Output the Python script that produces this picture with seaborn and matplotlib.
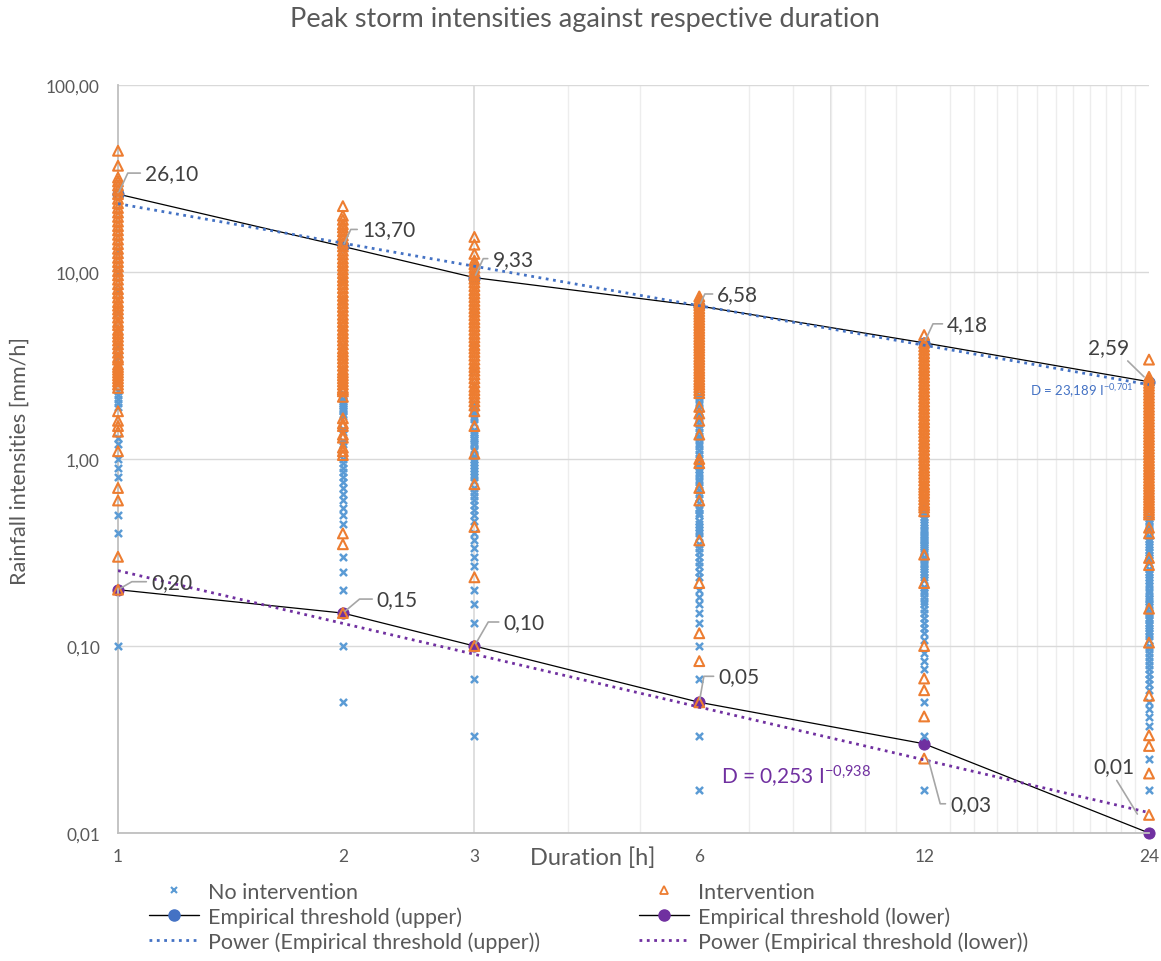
import numpy as np
import pandas as pd
import matplotlib
matplotlib.use('Agg')
import matplotlib.pyplot as plt
from matplotlib.ticker import FixedLocator, FuncFormatter, NullFormatter
from matplotlib.lines import Line2D
import seaborn as sns

# Durations [h] and empirical thresholds [mm/h]
durations = [1, 2, 3, 6, 12, 24]
upper_threshold = [26.10, 13.70, 9.33, 6.58, 4.18, 2.59]
lower_threshold = [0.20, 0.15, 0.10, 0.05, 0.03, 0.01]

# Peak intensities without intervention, per duration
no_int_1h = [0.1, 0.4, 0.5, 0.8, 0.9, 1.0, 1.2, 1.3, 1.9, 2.0, 2.1, 2.2, 2.3, 2.6, 3.0, 3.5, 4.0, 5.0,
             6.0, 8.0, 10.0, 13.0]
no_int_2h = [0.05, 0.1, 0.2, 0.25, 0.3, 0.45, 0.5, 0.55, 0.6, 0.65, 0.7, 0.75, 0.8, 0.85, 0.9, 0.95, 1.0,
             1.2, 1.25, 1.4, 1.45, 1.7, 1.75, 1.8, 1.85, 1.9, 1.95, 2.0, 2.05, 2.1, 2.2, 2.25, 2.5, 3.0,
             4.0, 5.0, 7.0, 9.0]
no_int_3h = [0.033, 0.067, 0.133, 0.167, 0.2, 0.267, 0.3, 0.333, 0.367, 0.4, 0.467, 0.5, 0.533, 0.567,
             0.6, 0.633, 0.667, 0.7, 0.767, 0.8, 0.833, 0.867, 0.9, 0.933, 0.967, 1.0, 1.033, 1.1, 1.133,
             1.2, 1.233, 1.267, 1.3, 1.367, 1.4, 1.433, 1.567, 1.633, 1.7, 1.767, 1.833, 1.867, 1.9,
             2.0, 2.5, 3.0, 4.0, 6.0]
no_int_6h = [0.017, 0.033, 0.067, 0.1, 0.133, 0.15, 0.167, 0.183, 0.2, 0.233, 0.25, 0.267, 0.283, 0.3,
             0.317, 0.333, 0.35, 0.383, 0.4, 0.417, 0.433, 0.45, 0.467, 0.5, 0.517, 0.533, 0.55, 0.583,
             0.617, 0.65, 0.683, 0.717, 0.75, 0.783, 0.817, 0.85, 0.883, 0.917, 0.967, 1.017, 1.067,
             1.117, 1.167, 1.217, 1.283, 1.333, 1.4, 1.467, 1.533, 1.617, 1.683, 1.767, 1.85, 1.933,
             2.017, 2.117, 2.2, 2.5, 3.0, 4.0]
no_int_12h = [0.017, 0.033, 0.05, 0.075, 0.083, 0.092, 0.108, 0.117, 0.125, 0.133, 0.142, 0.15, 0.158,
              0.167, 0.175, 0.183, 0.192, 0.2, 0.208, 0.225, 0.233, 0.242, 0.25, 0.258, 0.267, 0.275,
              0.283, 0.292, 0.3, 0.317, 0.325, 0.333, 0.342, 0.35, 0.358, 0.367, 0.375, 0.383, 0.392,
              0.408, 0.417, 0.425, 0.442, 0.458, 0.475, 0.492, 0.508, 0.525, 0.542, 0.558, 0.575, 0.6,
              0.7, 0.9, 1.2]
no_int_24h = [0.017, 0.025, 0.0375, 0.0417, 0.0458, 0.05, 0.0583, 0.0625, 0.0667, 0.0708, 0.075, 0.0792,
              0.0833, 0.0875, 0.0917, 0.0958, 0.1, 0.1083, 0.1125, 0.1167, 0.1208, 0.125, 0.1292, 0.1333,
              0.1375, 0.1417, 0.1458, 0.15, 0.1542, 0.1625, 0.1667, 0.175, 0.1792, 0.1833, 0.1917, 0.2,
              0.2083, 0.2167, 0.225, 0.2333, 0.2417, 0.25, 0.2583, 0.2792, 0.2875, 0.2958, 0.3083,
              0.3167, 0.325, 0.3375, 0.35, 0.3625, 0.375, 0.3875, 0.4125, 0.425, 0.4375, 0.45, 0.4667,
              0.4833, 0.5, 0.55, 0.6, 0.7]

# Peak intensities with intervention, per duration
int_1h = [0.2, 0.3, 0.6, 0.7, 1.1, 1.4, 1.5, 1.6, 1.8, 2.4, 2.5, 2.6, 2.7, 2.8, 2.9, 3.0, 3.1, 3.2, 3.4,
          3.5, 3.7, 3.9, 4.1, 4.3, 4.5, 4.7, 4.9, 5.2, 5.4, 5.7, 6.0, 6.3, 6.6, 6.9, 7.3, 7.7, 8.1, 8.6,
          9.1, 9.6, 10.1, 10.7, 11.3, 11.9, 12.6, 13.3, 14.1, 14.9, 15.8, 16.7, 17.6, 18.6, 19.7, 20.8,
          22.0, 23.3, 24.6, 26.1, 27.5, 29.0, 30.5, 32.0, 37.0, 44.5]
int_2h = [0.15, 0.35, 0.4, 1.05, 1.1, 1.15, 1.3, 1.35, 1.5, 1.55, 1.65, 2.15, 2.3, 2.35, 2.4, 2.5, 2.6,
          2.7, 2.8, 2.9, 3.0, 3.15, 3.3, 3.45, 3.6, 3.75, 3.9, 4.1, 4.3, 4.5, 4.7, 4.9, 5.15, 5.4, 5.65,
          5.9, 6.2, 6.5, 6.8, 7.1, 7.45, 7.8, 8.2, 8.6, 9.0, 9.4, 9.85, 10.3, 10.8, 11.3, 11.8, 12.4,
          13.0, 13.7, 14.3, 15.0, 15.7, 16.5, 17.3, 18.0, 19.0, 20.0, 22.5]
int_3h = [0.1, 0.233, 0.433, 0.733, 1.067, 1.5, 1.8, 1.933, 2.033, 2.133, 2.233, 2.333, 2.433, 2.567,
          2.7, 2.833, 2.967, 3.1, 3.233, 3.4, 3.567, 3.733, 3.9, 4.067, 4.267, 4.467, 4.667, 4.9, 5.133,
          5.367, 5.6, 5.867, 6.133, 6.4, 6.7, 7.0, 7.333, 7.667, 8.0, 8.4, 8.8, 9.2, 9.6, 10.067,
          10.533, 11.0, 11.5, 12.5, 14.0, 15.4]
int_6h = [0.05, 0.083, 0.117, 0.217, 0.367, 0.6, 0.7, 0.95, 1.0, 1.35, 1.6, 1.75, 1.9, 2.25, 2.333,
          2.417, 2.5, 2.583, 2.667, 2.767, 2.867, 2.967, 3.067, 3.183, 3.3, 3.417, 3.533, 3.667, 3.8,
          3.933, 4.067, 4.217, 4.367, 4.517, 4.683, 4.85, 5.017, 5.2, 5.383, 5.567, 5.767, 5.967,
          6.183, 6.4, 6.633, 6.867, 7.1, 7.4]
int_12h = [0.025, 0.042, 0.058, 0.067, 0.1, 0.217, 0.308, 0.525, 0.55, 0.567, 0.583, 0.608, 0.633,
           0.658, 0.683, 0.708, 0.733, 0.767, 0.8, 0.833, 0.867, 0.9, 0.942, 0.983, 1.025, 1.067, 1.117,
           1.167, 1.217, 1.267, 1.325, 1.383, 1.442, 1.5, 1.567, 1.633, 1.708, 1.783, 1.858, 1.942,
           2.025, 2.117, 2.208, 2.3, 2.4, 2.508, 2.617, 2.733, 2.85, 2.975, 3.1, 3.233, 3.375, 3.525,
           3.675, 3.833, 4.0, 4.175, 4.6]
int_24h = [0.0125, 0.0208, 0.0292, 0.0333, 0.0542, 0.1042, 0.1583, 0.2708, 0.2958, 0.4, 0.4292, 0.5042,
           0.5167, 0.5333, 0.55, 0.5667, 0.5833, 0.6042, 0.625, 0.6458, 0.6667, 0.6917, 0.7167, 0.7417,
           0.7667, 0.7958, 0.825, 0.8542, 0.8833, 0.9167, 0.95, 0.9833, 1.0208, 1.0583, 1.0958, 1.1375,
           1.1792, 1.225, 1.2708, 1.3167, 1.3667, 1.4167, 1.4708, 1.525, 1.5833, 1.6417, 1.7042,
           1.7667, 1.8333, 1.9, 1.975, 2.05, 2.125, 2.2042, 2.2875, 2.375, 2.4625, 2.55, 2.6458, 2.75,
           3.4]

no_int_lists = [no_int_1h, no_int_2h, no_int_3h, no_int_6h, no_int_12h, no_int_24h]
int_lists = [int_1h, int_2h, int_3h, int_6h, int_12h, int_24h]

# Colours
c_blue = '#5B9BD5'
c_orange = '#ED7D31'
c_upper = '#4472C4'
c_lower = '#7030A0'
c_text = '#404040'
c_axis = '#595959'


def to_frame(lists):
    frames = [pd.DataFrame({'duration': d, 'intensity': v}) for d, v in zip(durations, lists)]
    return pd.concat(frames, ignore_index=True)


def comma(v, fmt='.2f'):
    return format(v, fmt).replace('.', ',')


df_no = to_frame(no_int_lists)
df_int = to_frame(int_lists)
df_thr = pd.DataFrame({'duration': durations, 'upper': upper_threshold, 'lower': lower_threshold})

# Power trendlines (least squares in log-log, like Excel)
b_up, a_up = np.polyfit(np.log(durations), np.log(upper_threshold), 1)
b_lo, a_lo = np.polyfit(np.log(durations), np.log(lower_threshold), 1)
x_fit = np.geomspace(1, 24, 60)
df_fit = pd.DataFrame({'duration': x_fit,
                       'upper': np.exp(a_up) * x_fit ** b_up,
                       'lower': np.exp(a_lo) * x_fit ** b_lo})

sns.set_style('white')
plt.rcParams['font.family'] = ['Lato', 'DejaVu Sans']
plt.rcParams['mathtext.fontset'] = 'custom'
plt.rcParams['mathtext.rm'] = 'Lato'
plt.rcParams['mathtext.default'] = 'regular'

W, H = 1161, 962
fig = plt.figure(figsize=(W / 100, H / 100), dpi=100)
ax = fig.add_axes([118 / W, 1 - 834 / H, 1031 / W, 748 / H])
ax.set_xscale('log')
ax.set_yscale('log')
ax.set_xlim(1, 24)
ax.set_ylim(0.01, 100)

# Thresholds (lines with markers)
sns.lineplot(data=df_thr, x='duration', y='upper', color='black', linewidth=0.9, marker='o',
             markersize=8, markerfacecolor=c_upper, markeredgecolor=c_upper, ax=ax, zorder=2.5,
             clip_on=False)
sns.lineplot(data=df_thr, x='duration', y='lower', color='black', linewidth=0.9, marker='o',
             markersize=8, markerfacecolor=c_lower, markeredgecolor=c_lower, ax=ax, zorder=2.5,
             clip_on=False)

# Scatter of storms
sns.scatterplot(data=df_no, x='duration', y='intensity', marker='x', color=c_blue, s=26,
                linewidth=1.8, ax=ax, zorder=3, clip_on=False, legend=False)
sns.scatterplot(data=df_int, x='duration', y='intensity', marker='^', color=c_orange,
                facecolor='none', edgecolor=c_orange, s=50, linewidth=1.5, ax=ax, zorder=4,
                clip_on=False, legend=False)

# Trendlines
sns.lineplot(data=df_fit, x='duration', y='upper', color=c_upper, linewidth=2, linestyle=':',
             ax=ax, zorder=5)
sns.lineplot(data=df_fit, x='duration', y='lower', color=c_lower, linewidth=2, linestyle=':',
             ax=ax, zorder=5)

# Axes styling
ax.xaxis.set_major_locator(FixedLocator(durations))
ax.xaxis.set_major_formatter(FuncFormatter(lambda v, p: f'{v:g}'))
ax.xaxis.set_minor_locator(FixedLocator(list(range(2, 25))))
ax.xaxis.set_minor_formatter(NullFormatter())
ax.yaxis.set_major_locator(FixedLocator([0.01, 0.1, 1, 10, 100]))
ax.yaxis.set_major_formatter(FuncFormatter(lambda v, p: comma(v)))
ax.yaxis.set_minor_locator(FixedLocator([]))
ax.grid(False)
ax.grid(True, which='minor', axis='x', color='#EDEDED', linewidth=1)
ax.grid(True, which='major', axis='y', color='#D9D9D9', linewidth=1)
for xv in [3, 9]:
    ax.axvline(xv, color='#D9D9D9', linewidth=1.2, zorder=0.5)
ax.set_axisbelow(True)
for side in ['top', 'right']:
    ax.spines[side].set_visible(False)
for side in ['left', 'bottom']:
    ax.spines[side].set_color('#BFBFBF')
    ax.spines[side].set_linewidth(1.3)
ax.tick_params(axis='both', which='both', length=0, labelcolor=c_axis, labelsize=12.5)
ax.tick_params(axis='y', pad=13)
ax.tick_params(axis='x', pad=11)
ax.set_xlabel('')
ax.set_ylabel('')

# Data labels with leader lines
leader = dict(arrowstyle='-', color='#A6A6A6', linewidth=1.2, shrinkA=1, shrinkB=2)
upper_offsets = [(27, 21), (19, 17), (18, 19), (18, 12), (23, 19)]
for d, v, off in zip(durations[:-1], upper_threshold[:-1], upper_offsets):
    ax.annotate(comma(v), xy=(d, v), xytext=off, textcoords='offset pixels',
                ha='left', va='center', fontsize=15, color=c_text, zorder=6,
                arrowprops=dict(leader, connectionstyle='angle,angleA=0,angleB=65,rad=0',
                                relpos=(0, 0.5)))
ax.annotate(comma(upper_threshold[-1]), xy=(durations[-1], upper_threshold[-1]),
            xytext=(-40, 35), textcoords='offset pixels', ha='center', va='center', fontsize=15,
            color=c_text, zorder=6,
            arrowprops=dict(leader, relpos=(0.85, 0), shrinkB=5))

lower_offsets = [(33, 8), (34, 14), (29, 24), (19, 26)]
lower_angles = [30, 40, 60, 80]
for d, v, off, ang in zip(durations[:4], lower_threshold[:4], lower_offsets, lower_angles):
    ax.annotate(comma(v), xy=(d, v), xytext=off, textcoords='offset pixels',
                ha='left', va='center', fontsize=15, color=c_text, zorder=6,
                arrowprops=dict(leader, connectionstyle=f'angle,angleA=0,angleB={ang},rad=0',
                                relpos=(0, 0.5)))
ax.annotate(comma(lower_threshold[4]), xy=(durations[4], lower_threshold[4]),
            xytext=(26, -60), textcoords='offset pixels', ha='left', va='center', fontsize=15,
            color=c_text, zorder=6,
            arrowprops=dict(leader, connectionstyle='angle,angleA=0,angleB=-75,rad=0',
                            relpos=(0, 0.5), shrinkB=12))
ax.annotate(comma(lower_threshold[5]), xy=(durations[5], lower_threshold[5]),
            xytext=(-35, 67), textcoords='offset pixels', ha='center', va='center', fontsize=15,
            color=c_text, zorder=6,
            arrowprops=dict(leader, relpos=(0.5, 0), shrinkB=16))

# Trendline equations
eq_up = 'D = ' + comma(np.exp(a_up), '.3f') + ' I$^{' + comma(b_up, '.3f').replace(',', '{,}') + '}$'
eq_lo = 'D = ' + comma(np.exp(a_lo), '.3f') + ' I$^{' + comma(b_lo, '.3f').replace(',', '{,}') + '}$'
fig.text(1030 / W, 1 - 391 / H, eq_up, ha='left', va='center', fontsize=9.5, color=c_upper, zorder=10)
fig.text(721 / W, 1 - 777 / H, eq_lo, ha='left', va='center', fontsize=15, color=c_lower)

# Titles
fig.text(585 / W, 1 - 19 / H, 'Peak storm intensities against respective duration',
         ha='center', va='center', fontsize=19.5, color=c_axis)
fig.text(593 / W, 1 - 858 / H, 'Duration [h]', ha='center', va='center', fontsize=17, color=c_axis)
fig.text(20 / W, 1 - 461 / H, 'Rainfall intensities [mm/h]', ha='center', va='center',
         rotation=90, fontsize=15.5, color=c_axis)

# Legend in two columns
h_no = Line2D([], [], linestyle='none', marker='x', color=c_blue, markersize=5, markeredgewidth=1.5)
h_int = Line2D([], [], linestyle='none', marker='^', markerfacecolor='none', markeredgecolor=c_orange,
               markersize=6, markeredgewidth=1.3)
h_up = Line2D([], [], color='black', linewidth=1, marker='o', markerfacecolor=c_upper,
              markeredgecolor=c_upper, markersize=8)
h_lo = Line2D([], [], color='black', linewidth=1, marker='o', markerfacecolor=c_lower,
              markeredgecolor=c_lower, markersize=8)
h_pu = Line2D([], [], color=c_upper, linewidth=2, linestyle=':')
h_pl = Line2D([], [], color=c_lower, linewidth=2, linestyle=':')
leg_kw = dict(loc='upper left', frameon=False, borderpad=0, handlelength=2.35, handletextpad=0.42,
              labelspacing=0.2, fontsize=15.5, labelcolor=c_axis)
leg1 = fig.legend([h_no, h_up, h_pu],
                  ['No intervention', 'Empirical threshold (upper)', 'Power (Empirical threshold (upper))'],
                  bbox_to_anchor=(138 / W, 1 - 872 / H), **leg_kw)
leg2 = fig.legend([h_int, h_lo, h_pl],
                  ['Intervention', 'Empirical threshold (lower)', 'Power (Empirical threshold (lower))'],
                  bbox_to_anchor=(628 / W, 1 - 872 / H), **leg_kw)

fig.savefig('out.png', dpi=100)
